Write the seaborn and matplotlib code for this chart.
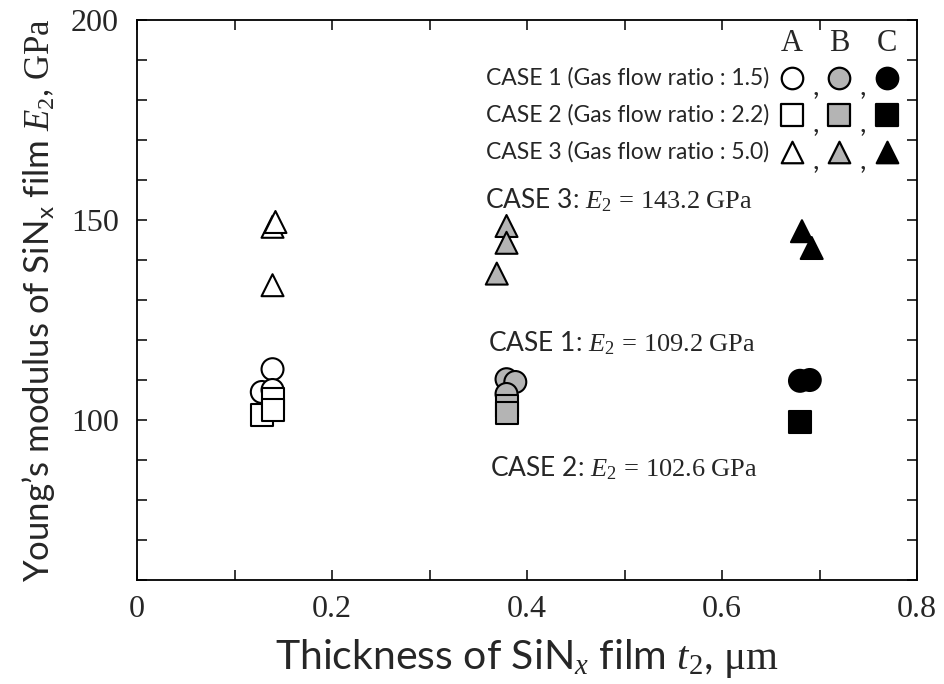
import matplotlib
matplotlib.use("Agg")
import matplotlib.pyplot as plt
from matplotlib.ticker import MultipleLocator, FuncFormatter
import numpy as np
import pandas as pd
import seaborn as sns

# Film thickness t2 (um) and Young's modulus E2 (GPa), per case and deposition group
case1_t = [0.128, 0.139, 0.139, 0.379, 0.388, 0.379, 0.680, 0.690]
case1_E = [107.0, 112.7, 107.5, 110.2, 109.5, 106.5, 109.8, 110.0]
case1_grp = ["A", "A", "A", "B", "B", "B", "C", "C"]

case2_t = [0.128, 0.139, 0.139, 0.379, 0.379, 0.680]
case2_E = [101.2, 105.3, 102.5, 103.5, 101.7, 99.6]
case2_grp = ["A", "A", "A", "B", "B", "C"]

case3_t = [0.139, 0.139, 0.142, 0.379, 0.379, 0.369, 0.682, 0.692]
case3_E = [133.7, 148.3, 149.5, 148.5, 144.3, 136.6, 147.2, 143.0]
case3_grp = ["A", "A", "A", "B", "B", "B", "C", "C"]

case_names = ["CASE 1", "CASE 2", "CASE 3"]
flow_ratios = ["1.5", "2.2", "5.0"]
mean_E = ["109.2", "102.6", "143.2"]
group_names = ["A", "B", "C"]

x_ticks = [0, 0.2, 0.4, 0.6, 0.8]
y_ticks = [100, 150, 200]

df = pd.concat([
    pd.DataFrame({"t": case1_t, "E": case1_E, "grp": case1_grp, "case": "1"}),
    pd.DataFrame({"t": case2_t, "E": case2_E, "grp": case2_grp, "case": "2"}),
    pd.DataFrame({"t": case3_t, "E": case3_E, "grp": case3_grp, "case": "3"}),
], ignore_index=True)

sns.set_theme(style="ticks")
plt.rcParams["font.family"] = ["Lato", "DejaVu Sans"]
plt.rcParams["mathtext.fontset"] = "custom"
plt.rcParams["mathtext.rm"] = "Liberation Serif"
plt.rcParams["mathtext.it"] = "Liberation Serif:italic"
plt.rcParams["mathtext.sf"] = "Lato"

SANS = "Lato"
SERIF = "Liberation Serif"
fills = {"A": "white", "B": "#b4b4b4", "C": "black"}
shapes = {"1": "o", "2": "s", "3": "^"}

fig = plt.figure(figsize=(9.44, 6.84), dpi=100)
ax = fig.add_axes([137 / 944, 1 - 580 / 684, 780 / 944, 560 / 684])

sns.scatterplot(data=df, x="t", y="E", hue="grp", style="case",
                palette=fills, markers=shapes, s=250,
                edgecolor="black", linewidth=1.5, legend=False, ax=ax, zorder=3)

ax.set_xlim(0, 0.8)
ax.set_ylim(60, 200)
ax.set_xticks(x_ticks)
ax.set_yticks(y_ticks)
ax.xaxis.set_minor_locator(MultipleLocator(0.1))
ax.yaxis.set_minor_locator(MultipleLocator(10))
ax.xaxis.set_major_formatter(FuncFormatter(lambda v, p: "0" if v == 0 else f"{v:.1f}"))
ax.tick_params(which="both", direction="in", top=True, right=True,
               length=7, width=1.1, color="black")
ax.tick_params(which="major", labelsize=23)
ax.tick_params(axis="y", which="major", pad=13)
ax.tick_params(axis="x", which="major", pad=11)
for lab in ax.get_xticklabels() + ax.get_yticklabels():
    lab.set_fontfamily(SERIF)
for sp in ax.spines.values():
    sp.set_visible(True)
    sp.set_linewidth(1.3)
    sp.set_color("black")

ax.set_xlabel(r"Thickness of SiN$_x$ film $t_2$, $\mathrm{\mu m}$", fontsize=29.5,
              fontfamily=SANS, labelpad=9)
ax.set_ylabel(r"Young’s modulus of SiN$_\mathsf{x}$ film $E_2$, $\mathrm{GPa}$",
              fontsize=25, fontfamily=SANS, labelpad=10)

# Mean modulus per case
ann_pos = [(0.360, 119.3), (0.362, 88.0), (0.357, 155.0)]
for name, val, (xa, ya) in zip(case_names, mean_E, ann_pos):
    ax.text(xa, ya, f"{name}: " + r"$E_2\,=\,$" + f"${val}$" + r"$\ \mathrm{GPa}$",
            fontsize=19, fontfamily=SANS, va="center", ha="left")

# Key: A/B/C headers and one row of symbols per case
col_x = [0.840, 0.900, 0.962]
row_y = [0.896, 0.830, 0.764]
for g, cx in zip(group_names, col_x):
    ax.text(cx, 0.958, g, transform=ax.transAxes, fontsize=22, fontfamily=SERIF,
            ha="center", va="center")
for i, (cname, ratio, ry) in enumerate(zip(case_names, flow_ratios, row_y)):
    ax.text(0.810, ry, f"{cname} (Gas flow ratio : {ratio})", transform=ax.transAxes,
            fontsize=16.5, fontfamily=SANS, ha="right", va="center")
    for j, (g, cx) in enumerate(zip(group_names, col_x)):
        ax.scatter([cx], [ry], s=240, marker=shapes[str(i + 1)], c=fills[g],
                   edgecolors="black", linewidths=1.6, transform=ax.transAxes,
                   clip_on=False, zorder=4)
        if j < 2:
            ax.text(cx + 0.030, ry - 0.014, ",", transform=ax.transAxes,
                    fontsize=21, fontfamily=SANS, ha="center", va="center")

fig.savefig("out.png", dpi=100)
